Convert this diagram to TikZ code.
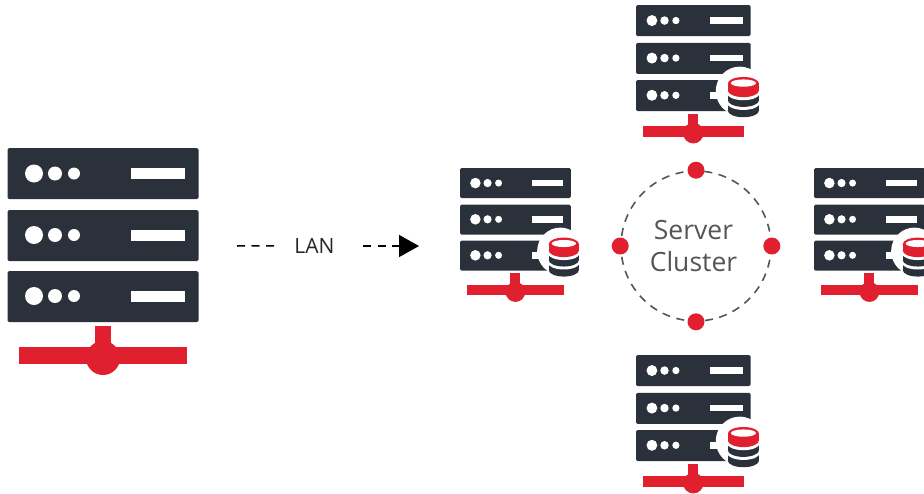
\documentclass[tikz,border=0pt]{standalone}
\usepackage{fontspec}
\setmainfont{Open Sans}
\usetikzlibrary{arrows.meta}

\definecolor{rackdark}{HTML}{2A313A}
\definecolor{rackred}{HTML}{E0202E}
\definecolor{ringgray}{HTML}{555555}

% one rack with its network bar, drawn at the size of the big one
\newcommand{\rackshapes}{
    \fill[rackdark, rounded corners=1.5pt] (0,0) rectangle (191,51);
    \fill[rackdark, rounded corners=1.5pt] (0,62) rectangle (191,113);
    \fill[rackdark, rounded corners=1.5pt] (0,123) rectangle (191,174);
    \fill[white] (26.5,25.5) circle[radius=9] (47.5,25.5) circle[radius=7] (66.5,25.5) circle[radius=6];
    \fill[white] (26.5,87) circle[radius=9] (47.5,87) circle[radius=7] (66.5,87) circle[radius=6];
    \fill[white] (26.5,148) circle[radius=9] (47.5,148) circle[radius=7] (66.5,148) circle[radius=6];
    \fill[white] (123.5,20) rectangle (177.5,31);
    \fill[white] (123.5,81.5) rectangle (177.5,92.5);
    \fill[white] (123.5,142.5) rectangle (177.5,153.5);
    \fill[rackred] (87,178) rectangle (103.5,205);
    \fill[rackred] (11.5,199) rectangle (179.5,216);
    \fill[rackred] (95.5,210) circle[radius=17];
}

\tikzset{
  reddot/.style={circle, fill=rackred, inner sep=0pt, minimum size=17pt},
  lanline/.style={dash pattern=on 8pt off 6.5pt, line width=1.5pt, black},
  serverrack/.pic={
    \rackshapes
  },
  % the same rack with a database badge on its corner
  dbrack/.pic={
    \rackshapes
    \fill[white] (173,141) circle[radius=40];
    \fill[rackdark] (153,150) rectangle (205,173);
    \fill[rackdark] (179,173) ellipse[x radius=26, y radius=11];
    \fill[white] (152,140) rectangle (206,161);
    \fill[white] (179,161) ellipse[x radius=27, y radius=11];
    \fill[rackdark] (153,135) rectangle (205,156);
    \fill[rackdark] (179,156) ellipse[x radius=26, y radius=11];
    \fill[white] (152,130) rectangle (206,145);
    \fill[white] (179,145) ellipse[x radius=27, y radius=11];
    \fill[rackred] (153,129) rectangle (205,140);
    \fill[rackred] (179,129) ellipse[x radius=26, y radius=11];
    \fill[rackred] (179,140) ellipse[x radius=26, y radius=11];
    \fill[white] (179,128) ellipse[x radius=21, y radius=6];
  }
}

\begin{document}
\begin{tikzpicture}[x=1pt, y=-1pt]

\clip (0,0) rectangle (924,493);

%position of the big rack
\coordinate (main) at (7.5,148);

%positions of the four cluster racks
\coordinate (rackT) at (636,5);
\coordinate (rackL) at (460,168);
\coordinate (rackR) at (814,168);
\coordinate (rackB) at (636,355);

%free ends of the LAN line
\coordinate (lanstart) at (237,246);
\coordinate (lanmid) at (363,246);
\coordinate (lantip) at (398,246);
\coordinate (lanend) at (419,246);

% racks
\pic at (main) {serverrack};
\pic[xscale=0.6, yscale=0.61] at (rackT) {dbrack};
\pic[xscale=0.58, yscale=0.59] at (rackL) {dbrack};
\pic[xscale=0.58, yscale=0.59] at (rackR) {dbrack};
\pic[xscale=0.6, yscale=0.61] at (rackB) {dbrack};

% LAN line
\node[minimum width=78pt, inner sep=0pt, font=\fontsize{21}{24}\selectfont, text=black!85] (lan) at (314.5,245.5) {LAN};
\draw[lanline] (lanstart) -- (lan);
\draw[lanline] (lanmid) -- (lantip);
\draw[line width=1.5pt, -{Triangle[length=20pt, width=22pt]}] (lantip) -- (lanend);

% cluster ring
\node[circle, draw=ringgray, line width=1.6pt, dash pattern=on 8pt off 6.5pt, minimum size=150pt, inner sep=0pt] (ring) at (696,246) {};
\node[align=center, text=ringgray, font=\fontsize{26.5}{32}\selectfont] (ringlabel) at (693.5,246) {Server\\Cluster};

% nodes on the ring
\node[reddot] (dotN) at (ring.north) {};
\node[reddot] (dotE) at (ring.east) {};
\node[reddot] (dotS) at (ring.south) {};
\node[reddot] (dotW) at (ring.west) {};

\end{tikzpicture}
\end{document}
